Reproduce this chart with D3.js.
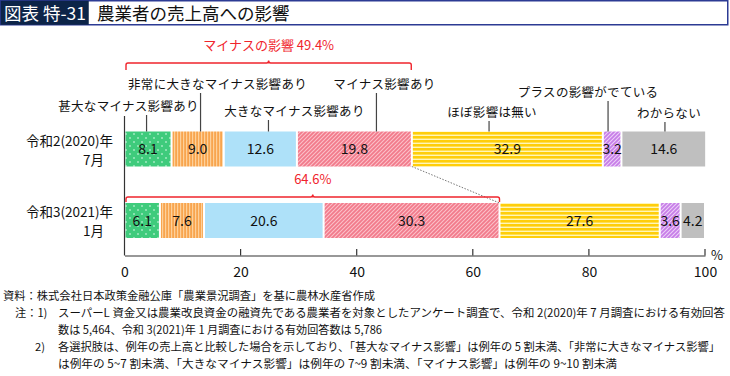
<!DOCTYPE html>
<html>
<head>
<meta charset="utf-8">
<script src="https://cdn.jsdelivr.net/npm/d3@7"></script>
<style>
  body { margin: 0; background: #fff; }
  svg { font-family: "Noto Sans CJK JP", "Noto Sans", sans-serif; }
</style>
</head>
<body>
<div id="chart"></div>
<script>
// data
const categories = ["甚大なマイナス影響あり", "非常に大きなマイナス影響あり", "大きなマイナス影響あり",
    "マイナス影響あり", "ほぼ影響は無い", "プラスの影響がでている", "わからない"];
const periods = [["令和2(2020)年", "7月"], ["令和3(2021)年", "1月"]];
const values2020 = [8.1, 9.0, 12.6, 19.8, 32.9, 3.2, 14.6];
const values2021 = [6.1, 7.6, 20.6, 30.3, 27.6, 3.6, 4.2];
const xTicks = [0, 20, 40, 60, 80, 100];
const bracketLabels = ["マイナスの影響 49.4%", "64.6%"];
const bracketValues = [49.4, 64.6];
const notes = [
    "資料：株式会社日本政策金融公庫「農業景況調査」を基に農林水産省作成",
    "スーパーL 資金又は農業改良資金の融資先である農業者を対象としたアンケート調査で、令和 2(2020)年 7 月調査における有効回答",
    "数は 5,464、令和 3(2021)年 1 月調査における有効回答数は 5,786",
    "各選択肢は、例年の売上高と比較した場合を示しており、「甚大なマイナス影響」は例年の 5 割未満、「非常に大きなマイナス影響」",
    "は例年の 5~7 割未満、「大きなマイナス影響」は例年の 7~9 割未満、「マイナス影響」は例年の 9~10 割未満"
];

// layout for category callouts (x of leader in % units, label center px, label y px)
const leaderAt = [3.8, 13.1, 24.8, 43.4, 62.8, 83.3, 93.1];
const labelDx = [-18, 17, 26, 8, 3, -20, 4];
const labelY = [106, 84, 111, 84, 112, 92, 113];

const W = 730, H = 376;
const svg = d3.select("#chart").append("svg").attr("width", W).attr("height", H);

// title bar
svg.append("rect").attr("x", 0.75).attr("y", 0.75).attr("width", W - 3).attr("height", 24)
    .attr("fill", "#fff").attr("stroke", "#2c3b94").attr("stroke-width", 1.5);
svg.append("rect").attr("x", 0.75).attr("y", 0.75).attr("width", 88).attr("height", 24).attr("fill", "#0c2448");
svg.append("text").attr("x", 4).attr("y", 19.5).attr("fill", "#fff").attr("font-size", 17.5)
    .attr("textLength", 82).text("図表 特-31");
svg.append("text").attr("x", 97).attr("y", 19.5).attr("fill", "#111").attr("font-size", 17.5)
    .text("農業者の売上高への影響");

// patterns
const defs = svg.append("defs");
function pattern(id, w, h, bg, draw) {
    let p = defs.append("pattern").attr("id", id).attr("patternUnits", "userSpaceOnUse")
        .attr("width", w).attr("height", h);
    p.append("rect").attr("width", w).attr("height", h).attr("fill", bg);
    draw(p);
}
pattern("p0", 8, 8, "#3fcb7c", p => {
    p.append("circle").attr("cx", 2).attr("cy", 2).attr("r", 0.8).attr("fill", "#e6fff0");
    p.append("circle").attr("cx", 6).attr("cy", 6).attr("r", 0.8).attr("fill", "#e6fff0");
});
pattern("p1", 3, 10, "#f8a54e", p => {
    p.append("rect").attr("x", 0).attr("width", 1.2).attr("height", 10).attr("fill", "#fdd09a");
});
pattern("p3", 4, 4, "#f27a8b", p => {
    p.append("path").attr("d", "M-1,1 l2,-2 M0,4 l4,-4 M3,5 l2,-2").attr("stroke", "#fcc0c8").attr("stroke-width", 1.1);
});
pattern("p4", 10, 4, "#ffce0a", p => {
    p.append("rect").attr("y", 2.6).attr("width", 10).attr("height", 1.4).attr("fill", "#fff6b8");
});
pattern("p5", 4, 4, "#c77de8", p => {
    p.append("path").attr("d", "M-1,1 l2,-2 M0,4 l4,-4 M3,5 l2,-2").attr("stroke", "#ecd0f7").attr("stroke-width", 1.1);
});
const fills = ["url(#p0)", "url(#p1)", "#aee1f9", "url(#p3)", "url(#p4)", "url(#p5)", "#bfbfbf"];

// scales
const x = d3.scaleLinear().domain([0, 100]).range([124.5, 705]);
const y = d3.scaleBand().domain([0, 1]).range([114, 255]).paddingInner(0.96).paddingOuter(0.55);
const barY = [131.5, 203];
const barH = 35;

// stacked data
const series = [values2020, values2021].map(vals => {
    let acc = 0;
    return vals.map((v, i) => {
        let d = {i: i, v: v, x0: acc, x1: acc + v};
        acc += v;
        return d;
    });
});

// dotted connector
svg.append("line")
    .attr("x1", x(series[0][3].x1)).attr("y1", barY[0] + barH)
    .attr("x2", x(bracketValues[1])).attr("y2", barY[1])
    .attr("stroke", "#666").attr("stroke-width", 0.9).attr("stroke-dasharray", "1.5,1.5");

// bars
series.forEach((row, r) => {
    let g = svg.append("g");
    g.selectAll("rect").data(row).enter().append("rect")
        .attr("x", d => x(d.x0) + 1)
        .attr("y", barY[r])
        .attr("width", d => Math.max(0, x(d.x1) - x(d.x0) - 2))
        .attr("height", barH)
        .attr("fill", d => fills[d.i]);
    g.selectAll("text").data(row).enter().append("text")
        .attr("x", d => (x(d.x0) + x(d.x1)) / 2)
        .attr("y", barY[r] + barH / 2 + 5)
        .attr("text-anchor", "middle")
        .attr("font-size", 14)
        .attr("fill", "#111")
        .text(d => d.v.toFixed(1));
});

// period labels
periods.forEach((p, r) => {
    svg.append("text").attr("x", 113).attr("y", barY[r] + 14).attr("text-anchor", "end")
        .attr("font-size", 13.5).attr("fill", "#111").text(p[0]);
    svg.append("text").attr("x", 104).attr("y", barY[r] + 33).attr("text-anchor", "end")
        .attr("font-size", 13.5).attr("fill", "#111").text(p[1]);
});

// axes
svg.append("line").attr("x1", x(0)).attr("x2", x(0)).attr("y1", 116).attr("y2", 255.5)
    .attr("stroke", "#333").attr("stroke-width", 1.2);
const xAxis = d3.axisBottom(x).tickValues(xTicks).tickSize(0).tickPadding(12);
const axisG = svg.append("g").attr("transform", "translate(0,255.5)").call(xAxis);
axisG.select(".domain").attr("stroke", "#333").attr("stroke-width", 1.2);
axisG.selectAll("text").attr("font-size", 14).attr("fill", "#111")
    .attr("font-family", "'Noto Sans CJK JP', 'Noto Sans', sans-serif");
svg.selectAll(".tickmark").data(xTicks.slice(1)).enter().append("line")
    .attr("class", "tickmark")
    .attr("x1", d => x(d)).attr("x2", d => x(d))
    .attr("y1", 249).attr("y2", 255.5).attr("stroke", "#333").attr("stroke-width", 1.2);
svg.append("text").attr("x", 711).attr("y", 260).attr("font-size", 13).attr("fill", "#111").text("%");

// category callouts
categories.forEach((c, i) => {
    let lx = x(leaderAt[i]);
    svg.append("line").attr("x1", lx).attr("x2", lx)
        .attr("y1", labelY[i] + 9).attr("y2", barY[0])
        .attr("stroke", "#444").attr("stroke-width", 1.2);
    svg.append("text").attr("x", lx + labelDx[i]).attr("y", labelY[i] + 4.5)
        .attr("text-anchor", "middle").attr("font-size", 12.5).attr("fill", "#111")
        .attr("letter-spacing", 0.3).text(c);
});

// red brackets
const red = "#f0242c";
const bracketY = [63, 197];
bracketValues.forEach((v, k) => {
    let x0 = x(0) + 1.5, x1 = x(v), by = bracketY[k], mid = (x0 + x1) / 2;
    let drop = k === 0 ? 7 : 5;
    svg.append("path")
        .attr("d", `M${x0},${by + drop} V${by + 2} Q${x0},${by} ${x0 + 2},${by} H${mid - 2} Q${mid},${by} ${mid},${by - 2.5} Q${mid},${by} ${mid + 2},${by} H${x1 - 2} Q${x1},${by} ${x1},${by + 2} V${by + drop}`)
        .attr("fill", "none").attr("stroke", red).attr("stroke-width", 1.4);
    svg.append("text").attr("x", mid).attr("y", by - 13).attr("text-anchor", "middle")
        .attr("font-size", 13).attr("fill", red).text(bracketLabels[k]);
});

// notes
const noteFont = 11.2;
const notesG = svg.append("g").attr("font-size", noteFont).attr("fill", "#111");
notesG.append("text").attr("x", 3).attr("y", 300).attr("textLength", 372).attr("lengthAdjust", "spacingAndGlyphs").text(notes[0]);
notesG.append("text").attr("x", 15).attr("y", 317).text("注：1)");
notesG.append("text").attr("x", 58).attr("y", 317).attr("textLength", 667).attr("lengthAdjust", "spacingAndGlyphs").text(notes[1]);
notesG.append("text").attr("x", 58).attr("y", 334).attr("textLength", 324).attr("lengthAdjust", "spacingAndGlyphs").text(notes[2]);
notesG.append("text").attr("x", 35).attr("y", 351).text("2)");
notesG.append("text").attr("x", 58).attr("y", 351).attr("textLength", 662).attr("lengthAdjust", "spacingAndGlyphs").text(notes[3]);
notesG.append("text").attr("x", 58).attr("y", 368).attr("textLength", 559).attr("lengthAdjust", "spacingAndGlyphs").text(notes[4]);
</script>
</body>
</html>
